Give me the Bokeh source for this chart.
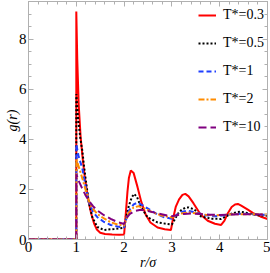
from bokeh.plotting import figure
from bokeh.models import Range1d, LinearAxis, Legend, LegendItem, SingleIntervalTicker
from bokeh.embed import file_html
from bokeh.resources import INLINE

# ---- data ----
r_03 = [0, 1.0, 1.0, 1.02, 1.05, 1.09, 1.13, 1.17, 1.22, 1.26, 1.31, 1.37, 1.43, 1.5, 1.6, 1.75, 1.9, 2.0,
        2.03, 2.07, 2.1, 2.14, 2.2, 2.28, 2.36, 2.45, 2.55, 2.7, 2.85, 2.98, 3.02, 3.08, 3.15, 3.22, 3.28,
        3.35, 3.45, 3.6, 3.75, 3.9, 4.03, 4.1, 4.17, 4.25, 4.32, 4.38, 4.45, 4.58, 4.7, 4.85, 5.0]
g_03 = [0, 0, 9.1, 7.2, 5.4, 4.1, 3.3, 2.6, 1.95, 1.5, 1.05, 0.65, 0.4, 0.27, 0.22, 0.2, 0.19, 0.2,
        0.9, 1.9, 2.45, 2.75, 2.65, 2.1, 1.5, 1.0, 0.68, 0.48, 0.41, 0.38, 0.8, 1.3, 1.6, 1.78, 1.82,
        1.72, 1.45, 1.0, 0.75, 0.63, 0.58, 0.75, 1.05, 1.3, 1.4, 1.42, 1.35, 1.2, 1.05, 0.92, 0.82]

r_05 = [0, 1, 1, 1.04, 1.08, 1.125, 1.16, 1.2, 1.26, 1.335, 1.44, 1.58, 1.79, 2.0, 2.04, 2.1, 2.16, 2.21,
        2.27, 2.35, 2.49, 2.7, 2.91, 3.0, 3.06, 3.12, 3.2, 3.28, 3.35, 3.47, 3.61, 3.82, 4.03, 4.13, 4.23,
        4.35, 4.44, 4.55, 4.65, 4.8, 5.0]
g_05 = [0, 0, 5.8, 4.8, 4.1, 3.55, 2.95, 2.35, 1.5, 0.89, 0.5, 0.38, 0.42, 0.47, 0.85, 1.35, 1.68, 1.82,
        1.7, 1.3, 0.89, 0.68, 0.62, 0.6, 0.8, 1.02, 1.18, 1.27, 1.28, 1.2, 0.92, 0.83, 0.82, 0.92, 1.02,
        1.09, 1.11, 1.07, 1.02, 0.97, 0.95]

r_1 = [0, 1, 1, 1.05, 1.125, 1.2, 1.26, 1.35, 1.44, 1.58, 1.72, 1.86, 2.0, 2.05, 2.1, 2.2, 2.28, 2.4,
       2.56, 2.7, 2.84, 3.0, 3.1, 3.2, 3.33, 3.5, 3.7, 3.9, 4.1, 4.3, 4.5, 4.75, 5.0]
g_1 = [0, 0, 3.8, 3.3, 2.85, 2.05, 1.5, 1.1, 0.89, 0.7, 0.58, 0.52, 0.48, 0.85, 1.15, 1.4, 1.47, 1.35,
       1.16, 1.0, 0.89, 0.83, 0.98, 1.1, 1.15, 1.08, 0.97, 0.93, 0.97, 1.02, 1.03, 1.0, 0.98]

r_2 = [0, 1, 1, 1.06, 1.125, 1.2, 1.26, 1.35, 1.44, 1.58, 1.72, 1.86, 2.0, 2.05, 2.1, 2.2, 2.3, 2.45,
       2.6, 2.8, 3.0, 3.1, 3.2, 3.35, 3.5, 3.7, 3.9, 4.1, 4.3, 4.6, 5.0]
g_2 = [0, 0, 3.2, 2.85, 2.45, 1.95, 1.55, 1.22, 1.02, 0.84, 0.69, 0.6, 0.55, 0.85, 1.08, 1.28, 1.33, 1.22,
       1.08, 0.95, 0.88, 0.97, 1.04, 1.08, 1.05, 0.99, 0.96, 0.98, 1.01, 1.01, 1.0]

r_10 = [0, 1, 1, 1.06, 1.12, 1.19, 1.26, 1.35, 1.44, 1.58, 1.72, 1.86, 2.0, 2.05, 2.12, 2.22, 2.35, 2.5,
        2.7, 2.9, 3.0, 3.1, 3.25, 3.4, 3.6, 3.8, 4.0, 4.3, 4.6, 5.0]
g_10 = [0, 0, 2.6, 2.3, 2.05, 1.78, 1.55, 1.33, 1.16, 0.97, 0.82, 0.7, 0.62, 0.85, 1.02, 1.14, 1.19, 1.14,
        1.04, 0.96, 0.93, 0.97, 1.02, 1.04, 1.02, 0.99, 0.98, 1.0, 1.01, 1.0]

labels = ["T*=0.3", "T*=0.5", "T*=1", "T*=2", "T*=10"]
x_label = "r/σ"
y_label = "g(r)"

FRAME = "#b0b0b0"
SERIF = "Liberation Serif"

p = figure(width=270, height=273, output_backend="svg", toolbar_location=None,
           x_range=Range1d(0, 5), y_range=Range1d(0, 9.5),
           min_border_left=28, min_border_right=3, min_border_top=1, min_border_bottom=34)
p.background_fill_color = "white"
p.border_fill_color = "white"
p.outline_line_color = FRAME
p.grid.visible = False

styles = [
    dict(color="#ff0000", line_width=2, line_dash="solid"),
    dict(color="#000000", line_width=2, line_dash="2 2"),
    dict(color="#1f3fff", line_width=2, line_dash="5 3"),
    dict(color="#ff8c00", line_width=2, line_dash="6 2 2 2"),
    dict(color="#800080", line_width=2, line_dash="8 4"),
]
series = [(r_03, g_03), (r_05, g_05), (r_1, g_1), (r_2, g_2), (r_10, g_10)]
renderers = []
for (xs, ys), st in zip(series, styles):
    renderers.append(p.line(xs, ys, line_color=st["color"], line_width=st["line_width"],
                            line_dash=st["line_dash"]))

def style_axis(ax, show_labels, title=None, title_standoff=0):
    ax.axis_line_color = FRAME
    ax.major_tick_line_color = FRAME
    ax.minor_tick_line_color = FRAME
    ax.major_tick_in = 5
    ax.major_tick_out = 0
    ax.minor_tick_in = 3
    ax.minor_tick_out = 0
    ax.axis_label = title
    if show_labels:
        ax.major_label_text_font = SERIF
        ax.major_label_text_font_size = "15px"
        ax.major_label_text_color = "black"
        ax.major_label_standoff = 2
        ax.axis_label_text_font = SERIF
        ax.axis_label_text_font_size = "14px"
        ax.axis_label_text_font_style = "italic"
        ax.axis_label_text_color = "black"
        ax.axis_label_standoff = title_standoff
    else:
        ax.major_label_text_font_size = "1px"
        ax.major_label_text_color = None
        ax.major_label_standoff = 0

p.xaxis.ticker = SingleIntervalTicker(interval=1, num_minor_ticks=5)
p.yaxis.ticker = SingleIntervalTicker(interval=2, num_minor_ticks=4)
style_axis(p.xaxis[0], True, x_label, 0)
style_axis(p.yaxis[0], True, y_label, -4)

top = LinearAxis(ticker=SingleIntervalTicker(interval=1, num_minor_ticks=5))
right = LinearAxis(ticker=SingleIntervalTicker(interval=2, num_minor_ticks=4))
style_axis(top, False)
style_axis(right, False)
p.add_layout(top, "above")
p.add_layout(right, "right")

legend = Legend(items=[LegendItem(label=l, renderers=[r]) for l, r in zip(labels, renderers)],
                location=(170, 102), border_line_color=None, background_fill_alpha=0,
                padding=0, margin=0, spacing=8, glyph_width=18, glyph_height=20,
                label_height=20, label_standoff=7, label_text_font=SERIF,
                label_text_font_size="14px", label_text_color="black")
p.add_layout(legend)

open("out.html", "w").write(file_html(p, INLINE))
